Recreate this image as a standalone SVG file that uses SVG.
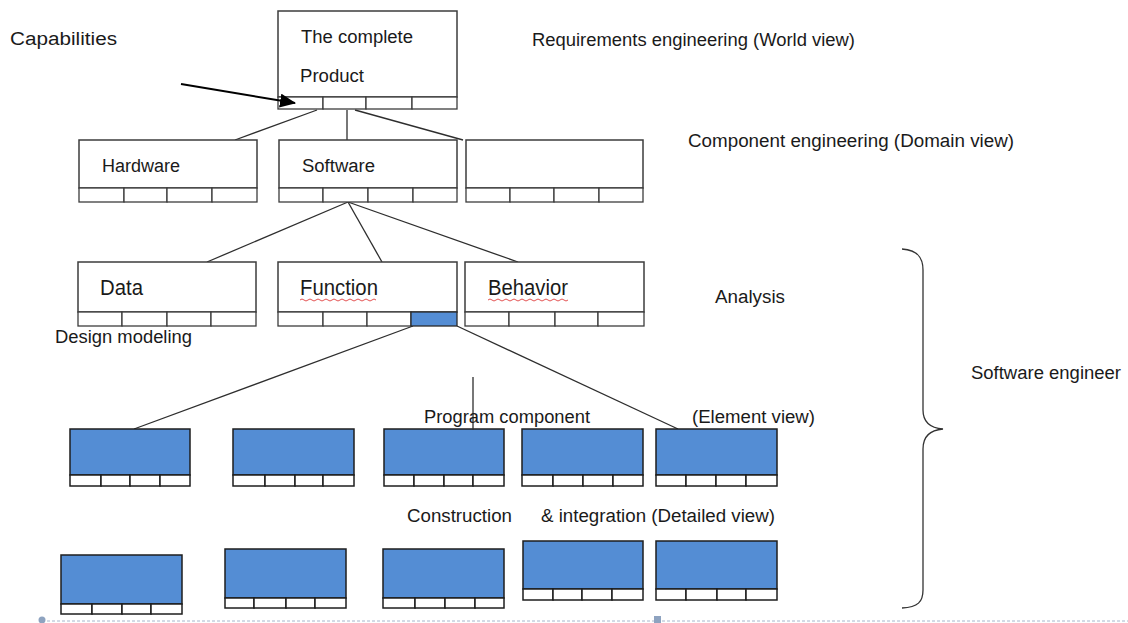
<svg xmlns="http://www.w3.org/2000/svg" width="1128" height="623" viewBox="0 0 1128 623">
<defs>
<style>
.box{fill:#fff;stroke:#3c3c3c;stroke-width:1.5}
.cell{fill:#fff;stroke:#3c3c3c;stroke-width:1.3}
.bbox{fill:#548dd4;stroke:#1e1e1e;stroke-width:1.5}
.bcell{fill:#fff;stroke:#1e1e1e;stroke-width:1.5}
.blue{fill:#548dd4;stroke:#2a2a2a;stroke-width:1.3}
.lbl{font-family:"Liberation Sans",Arial,sans-serif;font-size:18px;fill:#1a1a1a}
.big{font-size:22px}
.conn line{stroke:#2e2e2e;stroke-width:1.3}
.squig{fill:none;stroke:#e04040;stroke-width:0.9}
</style>
<marker id="ah" markerWidth="16" markerHeight="14" refX="15" refY="7" orient="auto" markerUnits="userSpaceOnUse" viewBox="0 0 16 14">
<path d="M0,0 L16,7 L0,14 z" fill="#000"/>
</marker>
</defs>
<rect width="1128" height="623" fill="#fff"/>

<g id="connectors" class="conn">
<line x1="317" y1="110" x2="235" y2="140"/>
<line x1="347" y1="110" x2="347" y2="140"/>
<line x1="355" y1="110" x2="463" y2="140"/>
<line x1="348" y1="202" x2="207" y2="262"/>
<line x1="348" y1="202" x2="382" y2="262"/>
<line x1="348" y1="202" x2="518" y2="262"/>
<line x1="413" y1="326" x2="134" y2="429"/>
<line x1="457" y1="326" x2="678" y2="429"/>
</g>

<g id="node-product">
<rect class="box" x="278" y="11" width="179" height="86"/>
<rect class="cell" x="278" y="97" width="45" height="12"/><rect class="cell" x="323" y="97" width="43" height="12"/><rect class="cell" x="366" y="97" width="46" height="12"/><rect class="cell" x="412" y="97" width="45" height="12"/>
<text class="lbl" x="301" y="43" font-size="19" textLength="112" lengthAdjust="spacingAndGlyphs">The complete</text>
<text class="lbl" x="300" y="82" font-size="19" textLength="64" lengthAdjust="spacingAndGlyphs">Product</text>
</g>

<g id="connector-capabilities">
<line x1="181" y1="84" x2="295" y2="103" stroke="#000" stroke-width="2" marker-end="url(#ah)"/>
</g>

<g id="node-hardware">
<rect class="box" x="79" y="140" width="178" height="48"/>
<rect class="cell" x="79" y="188" width="45" height="14"/><rect class="cell" x="124" y="188" width="43" height="14"/><rect class="cell" x="167" y="188" width="45" height="14"/><rect class="cell" x="212" y="188" width="45" height="14"/>
<text class="lbl" x="102" y="172" textLength="78" lengthAdjust="spacingAndGlyphs">Hardware</text>
</g>

<g id="node-software">
<rect class="box" x="279" y="140" width="178" height="48"/>
<rect class="cell" x="279" y="188" width="44" height="14"/><rect class="cell" x="323" y="188" width="45" height="14"/><rect class="cell" x="368" y="188" width="45" height="14"/><rect class="cell" x="413" y="188" width="44" height="14"/>
<text class="lbl" x="302" y="172" textLength="73" lengthAdjust="spacingAndGlyphs">Software</text>
</g>

<g id="node-component3">
<rect class="box" x="466" y="140" width="177" height="48"/>
<rect class="cell" x="466" y="188" width="44" height="14"/><rect class="cell" x="510" y="188" width="44" height="14"/><rect class="cell" x="554" y="188" width="45" height="14"/><rect class="cell" x="599" y="188" width="44" height="14"/>
</g>

<g id="node-data">
<rect class="box" x="78" y="262" width="178" height="50"/>
<rect class="cell" x="78" y="312" width="44" height="14"/><rect class="cell" x="122" y="312" width="45" height="14"/><rect class="cell" x="167" y="312" width="44" height="14"/><rect class="cell" x="211" y="312" width="45" height="14"/>
<text class="lbl big" x="100" y="295" textLength="43" lengthAdjust="spacingAndGlyphs">Data</text>
</g>

<g id="node-function">
<rect class="box" x="278" y="262" width="179" height="50"/>
<rect class="cell" x="278" y="312" width="45" height="14"/><rect class="cell" x="323" y="312" width="44" height="14"/><rect class="cell" x="367" y="312" width="44" height="14"/><rect class="blue" x="411" y="312" width="46" height="14"/>
<text class="lbl big" x="300" y="295" textLength="78" lengthAdjust="spacingAndGlyphs">Function</text>
<path class="squig" d="M300,300 q2,-2 4,0 t4,0 t4,0 t4,0 t4,0 t4,0 t4,0 t4,0 t4,0 t4,0 t4,0 t4,0 t4,0 t4,0 t4,0 t4,0 t4,0 t4,0 t4,0"/>
</g>

<g id="node-behavior">
<rect class="box" x="465" y="262" width="179" height="50"/>
<rect class="cell" x="465" y="312" width="44" height="14"/><rect class="cell" x="509" y="312" width="46" height="14"/><rect class="cell" x="555" y="312" width="43" height="14"/><rect class="cell" x="598" y="312" width="46" height="14"/>
<text class="lbl big" x="488" y="295" textLength="80" lengthAdjust="spacingAndGlyphs">Behavior</text>
<path class="squig" d="M488,300 q2,-2 4,0 t4,0 t4,0 t4,0 t4,0 t4,0 t4,0 t4,0 t4,0 t4,0 t4,0 t4,0 t4,0 t4,0 t4,0 t4,0 t4,0 t4,0 t4,0 t4,0"/>
</g>

<g id="row4-1">
<rect class="bbox" x="70" y="429" width="120" height="46"/>
<rect class="bcell" x="70" y="475" width="31" height="11"/><rect class="bcell" x="101" y="475" width="29" height="11"/><rect class="bcell" x="130" y="475" width="30" height="11"/><rect class="bcell" x="160" y="475" width="30" height="11"/>
</g>
<g id="row4-2">
<rect class="bbox" x="233" y="429" width="121" height="46"/>
<rect class="bcell" x="233" y="475" width="32" height="11"/><rect class="bcell" x="265" y="475" width="30" height="11"/><rect class="bcell" x="295" y="475" width="28" height="11"/><rect class="bcell" x="323" y="475" width="31" height="11"/>
</g>
<g id="row4-3">
<rect class="bbox" x="384" y="429" width="120" height="46"/>
<rect class="bcell" x="384" y="475" width="30" height="11"/><rect class="bcell" x="414" y="475" width="30" height="11"/><rect class="bcell" x="444" y="475" width="29" height="11"/><rect class="bcell" x="473" y="475" width="31" height="11"/>
</g>
<g id="row4-4">
<rect class="bbox" x="522" y="429" width="121" height="46"/>
<rect class="bcell" x="522" y="475" width="31" height="11"/><rect class="bcell" x="553" y="475" width="30" height="11"/><rect class="bcell" x="583" y="475" width="30" height="11"/><rect class="bcell" x="613" y="475" width="30" height="11"/>
</g>
<g id="row4-5">
<rect class="bbox" x="656" y="429" width="121" height="46"/>
<rect class="bcell" x="656" y="475" width="30" height="11"/><rect class="bcell" x="686" y="475" width="30" height="11"/><rect class="bcell" x="716" y="475" width="30" height="11"/><rect class="bcell" x="746" y="475" width="31" height="11"/>
</g>

<g id="row5-1">
<rect class="bbox" x="61" y="555" width="121" height="49"/>
<rect class="bcell" x="61" y="604" width="31" height="10"/><rect class="bcell" x="92" y="604" width="30" height="10"/><rect class="bcell" x="122" y="604" width="29" height="10"/><rect class="bcell" x="151" y="604" width="31" height="10"/>
</g>
<g id="row5-2">
<rect class="bbox" x="225" y="549" width="121" height="49"/>
<rect class="bcell" x="225" y="598" width="29" height="10"/><rect class="bcell" x="254" y="598" width="32" height="10"/><rect class="bcell" x="286" y="598" width="29" height="10"/><rect class="bcell" x="315" y="598" width="31" height="10"/>
</g>
<g id="row5-3">
<rect class="bbox" x="383" y="549" width="121" height="49"/>
<rect class="bcell" x="383" y="598" width="32" height="10"/><rect class="bcell" x="415" y="598" width="30" height="10"/><rect class="bcell" x="445" y="598" width="30" height="10"/><rect class="bcell" x="475" y="598" width="29" height="10"/>
</g>
<g id="row5-4">
<rect class="bbox" x="523" y="541" width="120" height="48"/>
<rect class="bcell" x="523" y="589" width="30" height="11"/><rect class="bcell" x="553" y="589" width="29" height="11"/><rect class="bcell" x="582" y="589" width="30" height="11"/><rect class="bcell" x="612" y="589" width="31" height="11"/>
</g>
<g id="row5-5">
<rect class="bbox" x="656" y="541" width="121" height="48"/>
<rect class="bcell" x="656" y="589" width="30" height="11"/><rect class="bcell" x="686" y="589" width="31" height="11"/><rect class="bcell" x="717" y="589" width="29" height="11"/><rect class="bcell" x="746" y="589" width="31" height="11"/>
</g>

<g id="vertical-marker" class="conn">
<line x1="473" y1="377" x2="473" y2="430"/>
</g>

<g id="brace">
<path d="M902,249 C918,250 923,258 923,270 L923,410 C923,422 930,428 943,429 C930,430 923,437 923,449 L923,590 C923,602 918,607 902,608" fill="none" stroke="#333" stroke-width="1.3"/>
</g>

<g id="labels">
<text class="lbl" x="10" y="45" font-size="21" textLength="107" lengthAdjust="spacingAndGlyphs">Capabilities</text>
<text class="lbl" x="532" y="46" textLength="323" lengthAdjust="spacingAndGlyphs">Requirements engineering  (World view)</text>
<text class="lbl" x="688" y="147" textLength="326" lengthAdjust="spacingAndGlyphs">Component engineering (Domain  view)</text>
<text class="lbl" x="715" y="303" textLength="70" lengthAdjust="spacingAndGlyphs">Analysis</text>
<text class="lbl" x="55" y="343" textLength="137" lengthAdjust="spacingAndGlyphs">Design modeling</text>
<text class="lbl" x="971" y="379" textLength="150" lengthAdjust="spacingAndGlyphs">Software engineer</text>
<text class="lbl" x="424" y="423" textLength="166" lengthAdjust="spacingAndGlyphs">Program component</text>
<text class="lbl" x="692" y="423" textLength="123" lengthAdjust="spacingAndGlyphs">(Element view)</text>
<text class="lbl" x="407" y="522" textLength="105" lengthAdjust="spacingAndGlyphs">Construction</text>
<text class="lbl" x="541" y="522" textLength="234" lengthAdjust="spacingAndGlyphs">&amp; integration (Detailed view)</text>
</g>

<g id="page-edge">
<line x1="42" y1="621" x2="1128" y2="621" stroke="#a6b6cc" stroke-width="1" stroke-dasharray="3 2"/>
<circle cx="42" cy="620" r="3.5" fill="#8ea3c0"/>
<rect x="654" y="616" width="7" height="8" fill="#8ea3c0"/>
</g>
</svg>
